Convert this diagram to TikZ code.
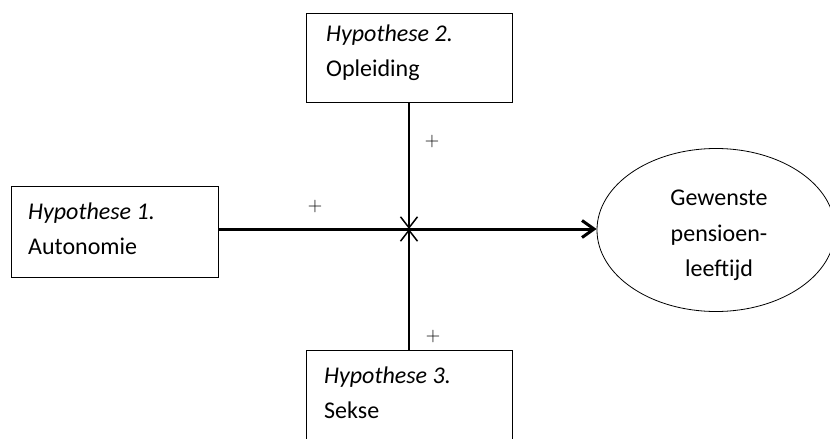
\documentclass[tikz,border=0pt]{standalone}
\usepackage{fontspec}
\setmainfont{Carlito}
\usetikzlibrary{arrows.meta,shapes.geometric}
\begin{document}
\begin{tikzpicture}[x=1pt,y=-1pt,
  hbox/.style={draw=black,line width=1pt,rectangle,inner sep=0pt,minimum width=206pt,minimum height=#1},
  hbox/.default=89pt,
  txt/.style={anchor=base west,inner sep=0pt,font=\fontsize{24}{29}\selectfont},
  ctxt/.style={anchor=base,inner sep=0pt,font=\fontsize{24}{29}\selectfont},
  plus/.style={inner sep=0pt,font=\fontfamily{lmr}\fontsize{20}{22}\selectfont},
  thinarrow/.style={line width=1.5pt,-{Straight Barb[length=11pt,width=17pt]}},
  thickarrow/.style={line width=3pt,-{Straight Barb[length=12pt,width=17pt]}}
]
\useasboundingbox (0,0) rectangle (830,439);
% boxes
\node[hbox] (tbox) at (409.5,57.5) {};
\node[hbox=91pt,minimum width=207pt] (lbox) at (114.5,231.5) {};
\node[hbox=92pt] (bbox) at (409.5,396) {};
\node[draw=black,line width=0.8pt,ellipse,inner sep=0pt,minimum width=238pt,minimum height=163pt] (ell) at (716,230) {};
% texts
\node[txt] (t1) at (326,41) {\itshape Hypothese 2.};
\node[txt] (t2) at (326,76) {Opleiding};
\node[txt] (l1) at (28,219) {\itshape Hypothese 1.};
\node[txt] (l2) at (28,254) {Autonomie};
\node[txt] (b1) at (324,383) {\itshape Hypothese 3.};
\node[txt] (b2) at (324,418) {Sekse};
\node[ctxt] (e1) at (719,205) {Gewenste};
\node[ctxt] (e2) at (719,241) {pensioen-};
\node[ctxt] (e3) at (719,276) {leeftijd};
% plus signs
\node[plus] (p1) at (432,142) {+};
\node[plus] (p2) at (315,207) {+};
\node[plus] (p3) at (433,337) {+};
% connectors
\coordinate (x) at (409,229);
\draw[thickarrow] (lbox.east |- x) -- (x -| ell.west);
\draw[thinarrow] (tbox.south -| x) -- (x);
\draw[thinarrow] (bbox.north -| x) -- (x);
\end{tikzpicture}
\end{document}
